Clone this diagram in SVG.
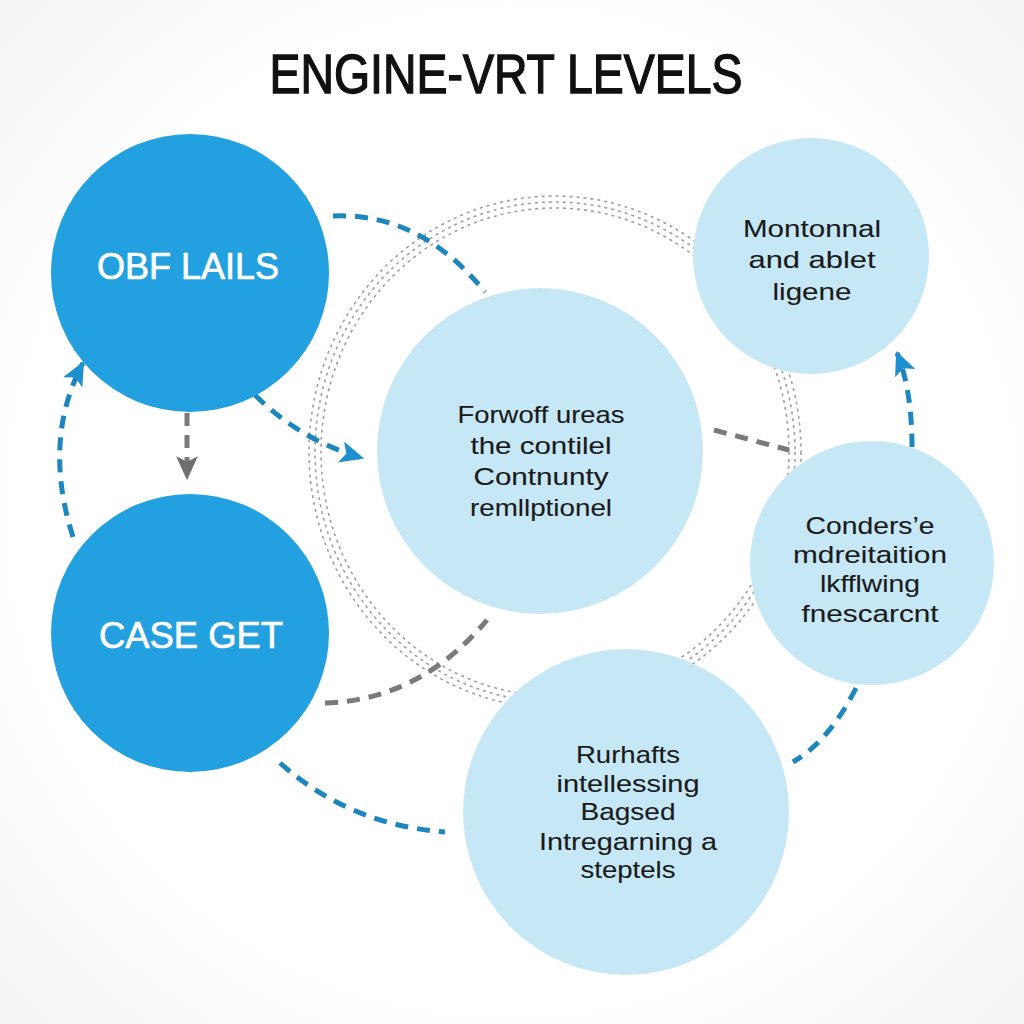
<svg xmlns="http://www.w3.org/2000/svg" width="1024" height="1024" viewBox="0 0 1024 1024">
<defs>
<style>
.dark{fill:#22a0e0}
.light{fill:#c6e8f6}
.wt{font-family:"Liberation Sans","DejaVu Sans",sans-serif;fill:#ffffff;stroke:#ffffff;stroke-width:0.7;text-anchor:middle;font-size:36px}
.bt{font-family:"Liberation Sans","DejaVu Sans",sans-serif;fill:#1a1a1a;stroke:#1a1a1a;stroke-width:0.1;text-anchor:middle;font-size:24px}
.title{font-family:"Liberation Sans","DejaVu Sans",sans-serif;fill:#111;stroke:#111;stroke-width:1.4;text-anchor:middle;font-size:55px}
.ring{fill:none;stroke:#a0a0a0;stroke-width:1.6;stroke-dasharray:3 4}
.bd{fill:none;stroke:#1e86bf;stroke-width:5;stroke-dasharray:13 9}
.gd{fill:none;stroke:#7a7a7a;stroke-width:5;stroke-dasharray:13 9}
</style>
<radialGradient id="bg" cx="50%" cy="50%" r="75%">
<stop offset="0.65" stop-color="#ffffff"/>
<stop offset="1" stop-color="#f1f1f1"/>
</radialGradient>
<marker id="ab" markerUnits="userSpaceOnUse" markerWidth="24" markerHeight="24" refX="20" refY="10" orient="auto" viewBox="0 0 22 20">
<path d="M0,0 L22,10 L0,20 L5,10 Z" fill="#1e8fcf"/>
</marker>
<marker id="ag" markerUnits="userSpaceOnUse" markerWidth="24" markerHeight="24" refX="20" refY="10" orient="auto" viewBox="0 0 22 20">
<path d="M0,0 L22,10 L0,20 L5,10 Z" fill="#6f6f6f"/>
</marker>
</defs>
<rect width="1024" height="1024" fill="url(#bg)"/>
<text class="title" x="506" y="93" textLength="473" lengthAdjust="spacingAndGlyphs">ENGINE-VRT LEVELS</text>
<g id="ring">
<ellipse class="ring" cx="555" cy="452" rx="234" ry="244"/>
<ellipse class="ring" cx="555" cy="452" rx="240" ry="250"/>
<ellipse class="ring" cx="555" cy="452" rx="246" ry="256"/>
</g>
<g id="connectors">
<path class="bd" d="M333,216 Q420,212 485,292" stroke-dasharray="3 9 13 9 13 9 13 9 13 9 13 9 13 9 13 9 13 9 13 9 13 9 13 9 13 9"/>
<path class="bd" d="M255,395 Q300,440 362,458" marker-end="url(#ab)"/>
<path class="gd" d="M187,413 L187,478" marker-end="url(#ag)"/>
<path class="bd" d="M73,537 Q42,440 83,363" marker-end="url(#ab)"/>
<path class="gd" d="M325,703 Q420,700 487,620"/>
<path class="bd" d="M280,763 Q350,825 445,832"/>
<path class="gd" d="M714,430 L789,450"/>
<path class="bd" d="M912,447 Q912,390 897,353" marker-end="url(#ab)"/>
<path class="bd" d="M856,688 Q830,740 793,762"/>
</g>
<g id="n1">
<circle class="dark" cx="190" cy="273" r="139"/>
<text class="wt" x="188" y="279" textLength="182" lengthAdjust="spacingAndGlyphs">OBF LAILS</text>
</g>
<g id="n2">
<circle class="dark" cx="190" cy="633" r="139"/>
<text class="wt" x="191" y="648" textLength="184" lengthAdjust="spacingAndGlyphs">CASE GET</text>
</g>
<g id="n3">
<circle class="light" cx="540" cy="451" r="163"/>
<text class="bt" x="541" y="423" textLength="167" lengthAdjust="spacingAndGlyphs">Forwoff ureas</text>
<text class="bt" x="541" y="454" textLength="141" lengthAdjust="spacingAndGlyphs">the contilel</text>
<text class="bt" x="541" y="485" textLength="135" lengthAdjust="spacingAndGlyphs">Contnunty</text>
<text class="bt" x="541" y="516" textLength="142" lengthAdjust="spacingAndGlyphs">remllptionel</text>
</g>
<g id="n4">
<circle class="light" cx="811" cy="256" r="118"/>
<text class="bt" x="812" y="237" textLength="138" lengthAdjust="spacingAndGlyphs">Montonnal</text>
<text class="bt" x="812" y="268" textLength="127" lengthAdjust="spacingAndGlyphs">and ablet</text>
<text class="bt" x="812" y="300" textLength="79" lengthAdjust="spacingAndGlyphs">ligene</text>
</g>
<g id="n5">
<circle class="light" cx="872" cy="563" r="122"/>
<text class="bt" x="870" y="534" textLength="129" lengthAdjust="spacingAndGlyphs">Conders’e</text>
<text class="bt" x="870" y="563" textLength="154" lengthAdjust="spacingAndGlyphs">mdreitaition</text>
<text class="bt" x="870" y="592" textLength="100" lengthAdjust="spacingAndGlyphs">lkfflwing</text>
<text class="bt" x="870" y="622" textLength="137" lengthAdjust="spacingAndGlyphs">fnescarcnt</text>
</g>
<g id="n6">
<circle class="light" cx="626" cy="812" r="163"/>
<text class="bt" x="628" y="763" textLength="104" lengthAdjust="spacingAndGlyphs">Rurhafts</text>
<text class="bt" x="628" y="792" textLength="143" lengthAdjust="spacingAndGlyphs">intellessing</text>
<text class="bt" x="628" y="820" textLength="95" lengthAdjust="spacingAndGlyphs">Bagsed</text>
<text class="bt" x="628" y="850" textLength="178" lengthAdjust="spacingAndGlyphs">Intregarning a</text>
<text class="bt" x="628" y="878" textLength="95" lengthAdjust="spacingAndGlyphs">steptels</text>
</g>
</svg>
